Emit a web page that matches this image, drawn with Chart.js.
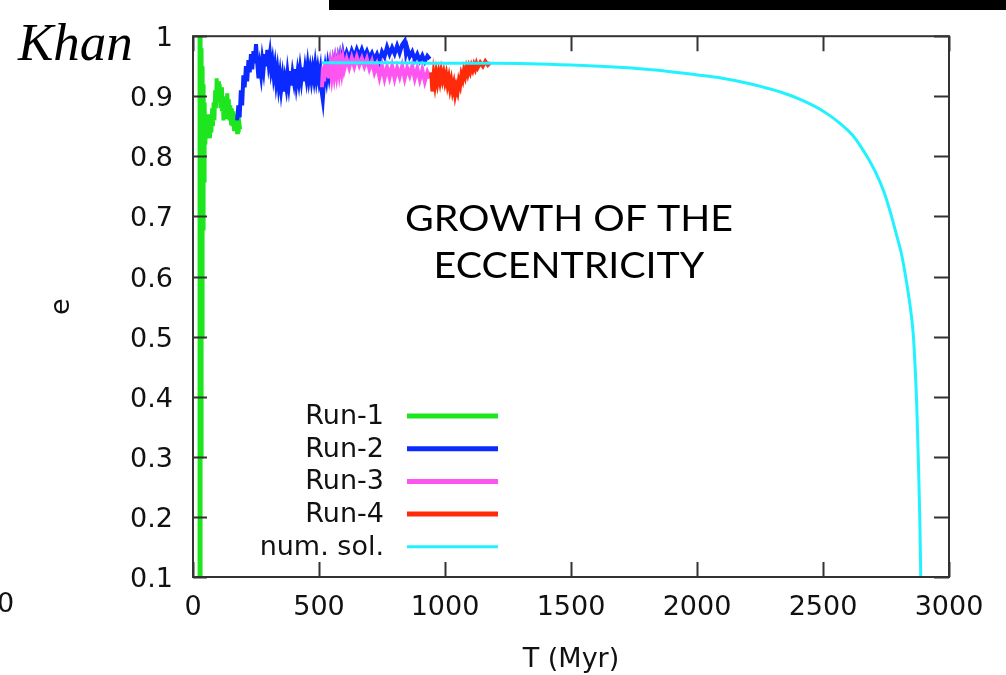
<!DOCTYPE html>
<html>
<head>
<meta charset="utf-8">
<title>Growth of the eccentricity</title>
<script src="https://cdn.jsdelivr.net/npm/chart.js@4.4.1/dist/chart.umd.min.js"></script>
<style>
  html, body { margin: 0; padding: 0; background: #fff; }
</style>
</head>
<body>
<canvas id="eccChart" width="1006" height="675"></canvas>
<script>
// eccentricity e vs. time T (Myr) for the four N-body runs and the numerical solution
const seriesNames = ["Run-1", "Run-2", "Run-3", "Run-4", "num. sol."];
const seriesColors = ["#1ee61e", "#0a2aff", "#ff55f0", "#ff2a0a", "#22f2ff"];
const xTicks = [0, 500, 1000, 1500, 2000, 2500, 3000];
const yTicks = [0.1, 0.2, 0.3, 0.4, 0.5, 0.6, 0.7, 0.8, 0.9, 1];

const run1 = [
  [24,0.10],[26,1.00],[28,0.10],[30,1.00],[32,0.30],[34,0.98],[36,0.50],[38,0.95],[40,0.68],[42,0.92],
  [44,0.76],[46,0.89],[49,0.82],[52,0.87],[55,0.83],[58,0.86],[61,0.84],[64,0.87],[67,0.83],[70,0.86],
  [73,0.84],[76,0.88],[79,0.85],[82,0.89],[85,0.86],[88,0.91],[91,0.88],[94,0.93],[97,0.89],[100,0.925],
  [103,0.895],[106,0.92],[109,0.88],[112,0.915],[115,0.875],[118,0.90],[121,0.86],[124,0.895],[127,0.865],
  [130,0.90],[133,0.87],[136,0.905],[139,0.875],[142,0.895],[145,0.86],[148,0.885],[151,0.855],[154,0.88],
  [157,0.85],[160,0.875],[163,0.845],[166,0.87],[169,0.845],[172,0.865],[175,0.84],[178,0.86],[181,0.84],
  [184,0.855],[187,0.845]
];

const run2 = [
  [175,0.86],[180,0.885],[185,0.865],[190,0.91],[195,0.885],[200,0.935],[205,0.915],[210,0.95],[215,0.925],
  [220,0.96],[225,0.94],[230,0.97],[235,0.945],[240,0.975],[245,0.955],[250,0.987],[255,0.955],[260,0.93],
  [265,0.95],[270,0.935],[275,0.96],[280,0.945],[285,0.97],[290,0.95],[295,0.977],[300,0.955],[305,0.97],
  [310,0.945],[315,0.958],[320,0.935],[325,0.95],[330,0.925],[335,0.942],[340,0.918],[345,0.935],[350,0.912],
  [355,0.93],[360,0.908],[365,0.928],[370,0.915],[375,0.938],[380,0.92],[385,0.942],[390,0.918],[395,0.938],
  [400,0.925],[405,0.945],[410,0.922],[415,0.94],[420,0.925],[425,0.945],[430,0.928],[435,0.948],[440,0.925],
  [445,0.945],[450,0.93],[455,0.95],[460,0.93],[465,0.945],[470,0.928],[475,0.945],[480,0.93],[485,0.95],
  [490,0.93],[495,0.945],[500,0.928],[505,0.942],[510,0.91],[515,0.895],[520,0.925],[525,0.945],[530,0.93],
  [535,0.95],[540,0.935],[545,0.952],[550,0.94],[555,0.956],[560,0.943],[565,0.96],[570,0.948],[575,0.962],
  [580,0.95],[585,0.966],[590,0.955],[595,0.97],[600,0.958],[610,0.973],[620,0.962],[630,0.976],[640,0.965],
  [650,0.978],[660,0.967],[670,0.978],[680,0.966],[690,0.975],[700,0.964],[710,0.972],[720,0.961],[730,0.97],
  [740,0.958],[750,0.974],[760,0.966],[770,0.982],[780,0.97],[790,0.981],[800,0.971],[810,0.984],[820,0.972],
  [830,0.986],[840,0.992],[845,0.972],[850,0.981],[860,0.966],[870,0.974],[880,0.961],[890,0.97],[900,0.959],
  [910,0.968],[920,0.958],[930,0.967],[940,0.962]
];

const run3 = [
  [512,0.915],[516,0.95],[520,0.925],[525,0.955],[530,0.932],[535,0.953],[540,0.93],[545,0.95],[550,0.933],
  [555,0.952],[560,0.936],[565,0.955],[570,0.938],[575,0.956],[580,0.94],[585,0.958],[590,0.942],[595,0.96],
  [600,0.945],[610,0.962],[620,0.948],[630,0.964],[640,0.95],[650,0.965],[660,0.952],[670,0.963],[680,0.95],
  [690,0.962],[700,0.946],[710,0.958],[720,0.94],[730,0.952],[740,0.932],[750,0.95],[760,0.93],[770,0.948],
  [780,0.932],[790,0.95],[800,0.93],[810,0.947],[820,0.933],[830,0.95],[840,0.93],[850,0.947],[860,0.935],
  [870,0.95],[880,0.93],[890,0.946],[900,0.928],[910,0.944],[920,0.925],[930,0.94],[940,0.93]
];

const run4 = [
  [945,0.94],[950,0.908],[955,0.935],[960,0.92],[965,0.937],[970,0.924],[975,0.938],[980,0.926],[985,0.94],
  [990,0.928],[995,0.938],[1000,0.925],[1005,0.935],[1010,0.92],[1015,0.93],[1020,0.914],[1025,0.925],
  [1030,0.91],[1035,0.92],[1040,0.904],[1045,0.916],[1050,0.908],[1055,0.925],[1060,0.918],[1065,0.935],
  [1070,0.928],[1075,0.942],[1080,0.934],[1085,0.946],[1090,0.938],[1095,0.948],[1100,0.941],[1105,0.95],
  [1110,0.944],[1115,0.952],[1120,0.946],[1125,0.954],[1130,0.948],[1140,0.956],[1150,0.95],[1160,0.958],
  [1170,0.952],[1180,0.956]
];

const numSol = [
  [512,0.956],[800,0.956],[1000,0.955],[1200,0.955],[1500,0.952],[1800,0.945],[2012,0.935],[2100,0.930],
  [2210,0.921],[2300,0.911],[2360,0.903],[2409,0.895],[2450,0.887],[2490,0.878],[2530,0.867],[2567,0.855],
  [2620,0.834],[2673,0.801],[2707,0.775],[2739,0.744],[2766,0.709],[2792,0.669],[2810,0.640],[2825,0.607],
  [2845,0.553],[2858,0.505],[2866,0.445],[2872,0.386],[2878,0.300],[2884,0.200],[2888,0.100]
];

const seriesData = [run1, run2, run3, run4, numSol];
const lineWidths = [4, 4, 4, 4, 3];
const legendWidths = [5, 5, 5, 5, 3];

const tickFont = { family: "DejaVu Sans", size: 27 };
const textColor = "#111";

const datasets = seriesData.map((pts, i) => ({
  label: seriesNames[i],
  data: pts.map(p => ({ x: p[0], y: p[1] })),
  borderColor: seriesColors[i],
  backgroundColor: seriesColors[i],
  borderWidth: lineWidths[i],
  pointRadius: 0,
  fill: false,
  tension: 0,
  cubicInterpolationMode: i === 4 ? "monotone" : "default",
  order: 4 - i
}));

// frame with inward ticks on all four sides, plus the key and the annotations
const framePlugin = {
  id: "framePlugin",
  afterDraw(chart) {
    const ctx = chart.ctx;
    const a = chart.chartArea;
    const xs = chart.scales.x, ys = chart.scales.y;
    ctx.save();

    ctx.strokeStyle = "#333";
    ctx.lineWidth = 2;
    ctx.strokeRect(a.left, a.top, a.right - a.left, a.bottom - a.top);

    ctx.beginPath();
    xTicks.forEach(v => {
      const px = Math.round(xs.getPixelForValue(v)) + 0.5;
      ctx.moveTo(px, a.bottom); ctx.lineTo(px, a.bottom - 15);
      ctx.moveTo(px, a.top); ctx.lineTo(px, a.top + 15);
    });
    yTicks.forEach(v => {
      const py = Math.round(ys.getPixelForValue(v)) + 0.5;
      ctx.moveTo(a.left, py); ctx.lineTo(a.left + 14, py);
      ctx.moveTo(a.right, py); ctx.lineTo(a.right - 15, py);
    });
    ctx.stroke();

    // key
    ctx.font = "27px 'DejaVu Sans'";
    ctx.fillStyle = textColor;
    ctx.textAlign = "right";
    ctx.textBaseline = "middle";
    chart.data.datasets.forEach((ds, i) => {
      const y = 416 + i * 32.7;
      ctx.fillText(ds.label, 384, y + 1);
      ctx.strokeStyle = ds.borderColor;
      ctx.lineWidth = legendWidths[i];
      ctx.beginPath();
      ctx.moveTo(407, y);
      ctx.lineTo(498, y);
      ctx.stroke();
    });

    // title inside the plot, stretched a little to the width of the wide sans face
    ctx.fillStyle = "#000";
    ctx.textAlign = "center";
    ctx.textBaseline = "alphabetic";
    ctx.font = "36px Lato";
    const stretch = 328 / ctx.measureText("GROWTH OF THE").width;
    ["GROWTH OF THE", "ECCENTRICITY"].forEach((line, k) => {
      ctx.save();
      ctx.translate(569, 231 + k * 47);
      ctx.scale(stretch, 1);
      ctx.fillText(line, 0, 0);
      ctx.restore();
    });

    // author tag and stray label at the left
    ctx.textAlign = "left";
    ctx.font = "italic 53px 'Liberation Serif'";
    ctx.fillStyle = "#000";
    ctx.fillText("Khan", 18, 60);
    ctx.font = "27px 'DejaVu Sans'";
    ctx.fillStyle = textColor;
    ctx.fillText("0", -3, 612);

    ctx.fillStyle = "#000";
    ctx.fillRect(329, 0, 677, 10);
    ctx.restore();
  }
};

new Chart(document.getElementById("eccChart").getContext("2d"), {
  type: "line",
  data: { datasets: datasets },
  options: {
    responsive: false,
    animation: false,
    layout: { padding: { left: 43, right: 57, top: 20, bottom: 0 } },
    plugins: { legend: { display: false }, tooltip: { enabled: false } },
    scales: {
      x: {
        type: "linear",
        min: 0,
        max: 3000,
        afterFit: s => { s.height = 98; },
        afterBuildTicks: s => { s.ticks = xTicks.map(v => ({ value: v })); },
        ticks: {
          padding: 15, font: tickFont, color: textColor, maxRotation: 0,
          callback: v => String(v)
        },
        grid: { display: false, drawTicks: false },
        border: { display: false },
        title: {
          display: true, text: "T (Myr)", color: textColor,
          font: { family: "DejaVu Sans", size: 27, lineHeight: 1 },
          padding: { top: 0, bottom: 1.5 }
        }
      },
      y: {
        type: "linear",
        min: 0.1,
        max: 1,
        afterFit: s => { s.width = 150; },
        afterBuildTicks: s => { s.ticks = yTicks.map(v => ({ value: v })); },
        ticks: {
          padding: 20, labelOffset: 3, font: tickFont, color: textColor,
          callback: v => (v === 1 ? "1" : v.toFixed(1))
        },
        grid: { display: false, drawTicks: false },
        border: { display: false },
        title: {
          display: true, text: "e", color: textColor,
          font: { family: "DejaVu Sans", size: 27, lineHeight: 1 },
          padding: { top: 5.5, bottom: 0 }
        }
      }
    }
  },
  plugins: [framePlugin]
});
</script>
</body>
</html>
